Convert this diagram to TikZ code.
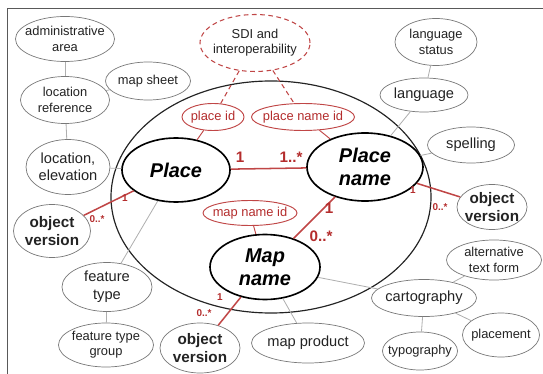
\documentclass[tikz,border=0pt]{standalone}
\usepackage{fontspec}
\setmainfont{Liberation Sans}
\usepackage{tikz}
\usetikzlibrary{shapes.geometric}
\definecolor{linkred}{RGB}{192,70,70}
\definecolor{labelred}{RGB}{180,45,45}
\definecolor{attrgray}{RGB}{120,120,120}
\definecolor{linkgray}{RGB}{175,175,175}
\definecolor{inkgray}{RGB}{35,35,35}
\tikzset{
  ell/.style={ellipse, fill=white, inner xsep=-30pt, inner ysep=-12pt, align=center, text=inkgray},
  wh/.style 2 args={minimum width=#1cm, minimum height=#2cm},
  attr/.style={ell, draw=attrgray, line width=0.6pt, font=\fontsize{11}{13}\selectfont},
  attrbig/.style={attr, font=\fontsize{12.5}{14.5}\selectfont},
  objver/.style={attr, font=\fontsize{13}{16}\bfseries\selectfont},
  entity/.style={ell, draw=black, line width=1.4pt, text=black, font=\fontsize{17}{19.5}\bfseries\itshape\selectfont},
  ident/.style={ell, draw=linkred, line width=0.8pt, text=labelred, font=\fontsize{11}{13}\selectfont},
  sdibox/.style={ident, dash pattern=on 4pt off 3pt, line width=0.9pt, text=inkgray},
  rel/.style={draw=linkred, line width=1.3pt},
  idlink/.style={draw=linkred, line width=0.8pt},
  sdilink/.style={idlink, dash pattern=on 4pt off 3pt, line width=0.9pt},
  attrlink/.style={draw=linkgray, line width=0.7pt},
  multbig/.style={text=labelred, font=\fontsize{13}{15}\bfseries\selectfont, inner sep=0pt},
  multsmall/.style={text=labelred, font=\fontsize{8.5}{10}\bfseries\selectfont, inner sep=0pt},
}

\begin{document}
\begin{tikzpicture}[x=0.03cm, y=-0.03cm]
    \useasboundingbox (0,0) rectangle (543,374);
    \draw[black!65, line width=0.8pt] (543,8) -- (7,8) -- (7,374);
    \node[ell, draw=inkgray, fill=none, line width=1pt, wh={9.60}{6.96}] (core) at (271,197) {};

    \node[attr, wh={2.97}{1.35}] (admin) at (65,39) {administrative\\area};
    \node[attr, wh={2.55}{1.14}] (mapsheet) at (148,81) {map sheet};
    \node[attr, wh={2.67}{1.41}] (locref) at (65,100) {location\\reference};
    \node[attrbig, wh={2.52}{1.65}] (locelev) at (68,167) {location,\\elevation};
    \node[objver, wh={2.31}{1.59}] (objL) at (52,231) {object\\version};
    \node[attrbig, wh={2.70}{1.47}, font=\fontsize{12.5}{15.5}\selectfont] (ftype) at (107,287) {feature\\type};
    \node[attr, wh={2.85}{1.32}] (ftgroup) at (106,345) {feature type\\group};

    \node[sdibox, wh={3.30}{1.71}] (sdi) at (255,43) {SDI and\\interoperability};
    \node[ident, wh={1.86}{0.81}] (placeid) at (213,117) {place id};
    \node[ident, wh={3.09}{0.81}] (pnameid) at (303,117) {place name id};
    \node[ident, wh={2.82}{0.75}] (mnameid) at (250,213) {map name id};

    \node[entity, wh={3.24}{1.92}] (place) at (176,170) {Place};
    \node[entity, wh={3.48}{2.04}] (pname) at (365,167) {Place\\name};
    \node[entity, wh={3.30}{1.95}] (mname) at (265,267) {Map\\name};

    \node[objver, wh={2.40}{1.50}] (objB) at (200,348) {object\\version};
    \node[attrbig, wh={3.39}{1.20}] (mproduct) at (308,343) {map product};
    \node[attrbig, wh={3.15}{1.11}] (carto) at (424,298) {cartography};
    \node[attr, wh={2.85}{1.20}] (alttext) at (494,260) {alternative\\text form};
    \node[attr, wh={2.31}{1.32}] (placement) at (501,335) {placement};
    \node[attr, wh={2.25}{1.14}] (typo) at (420,351) {typography};

    \node[attr, wh={2.46}{1.41}] (langstat) at (436,42) {language\\status};
    \node[attrbig, wh={2.64}{1.02}] (lang) at (424,95) {language};
    \node[attrbig, wh={2.61}{1.08}] (spelling) at (471,145) {spelling};
    \node[objver, wh={2.10}{1.35}] (objR) at (492,207) {object\\version};

    \draw[attrlink] (admin) -- (locref);
    \draw[attrlink] (locref) -- (mapsheet);
    \draw[attrlink] (locref) -- (locelev);
    \draw[attrlink] (locelev) -- (place);
    \draw[attrlink] (ftype) -- (place);
    \draw[attrlink] (ftype) -- (ftgroup);
    \draw[attrlink] (langstat) -- (lang);
    \draw[attrlink] (lang) -- (pname);
    \draw[attrlink] (spelling) -- (pname);
    \draw[attrlink] (mname) -- (mproduct);
    \draw[attrlink] (mname) -- (carto);
    \draw[attrlink] (carto) -- (alttext);
    \draw[attrlink] (carto) -- (typo);
    \draw[attrlink] (carto) -- (placement);

    \draw[sdilink] (sdi) -- (placeid);
    \draw[sdilink] (sdi) -- (pnameid);
    \draw[idlink] (placeid) -- (place);
    \draw[idlink] (pnameid) -- (pname);
    \draw[idlink] (mnameid) -- (mname);

    \draw[rel] (place) -- (pname);
    \draw[rel] (pname) -- (mname);
    \draw[rel] (place) -- (objL);
    \draw[rel] (pname) -- (objR);
    \draw[rel] (mname) -- (objB);

    \node[multbig] (multPlaceA) at (240,157) {1};
    \node[multbig] (multPlaceB) at (291,157) {1..*};
    \node[multbig] (multMapA) at (329,208) {1};
    \node[multbig] (multMapB) at (321,236) {0..*};
    \node[multsmall] (multObjLA) at (125,198) {1};
    \node[multsmall] (multObjLB) at (97,219) {0..*};
    \node[multsmall] (multObjRA) at (413,190) {1};
    \node[multsmall] (multObjRB) at (440,207) {0..*};
    \node[multsmall] (multObjBA) at (220,297) {1};
    \node[multsmall] (multObjBB) at (204,313) {0..*};
\end{tikzpicture}
\end{document}
